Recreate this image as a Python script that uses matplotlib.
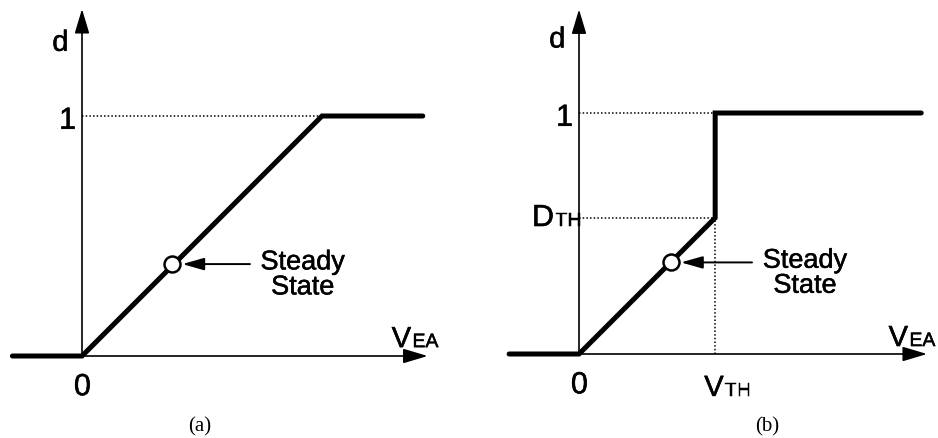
import matplotlib
matplotlib.use("Agg")
import matplotlib.pyplot as plt
import matplotlib.patheffects as pe

plt.rcParams['font.family'] = ['Liberation Sans', 'DejaVu Sans']

# duty cycle d versus error amplifier voltage V_EA
a_x = [-0.29, 0.0, 1.0, 1.42]
a_y = [0.0, 0.0, 1.0, 1.0]
a_steady = (0.375, 0.383)

V_TH = 0.565
D_TH = 0.565
b_x = [-0.29, 0.0, V_TH, V_TH, 1.42]
b_y = [0.0, 0.0, D_TH, 1.0, 1.0]
b_steady = (0.38, 0.38)

W, H = 938, 439
fig = plt.figure(figsize=(W / 100, H / 100), dpi=100)

# slightly heavier glyphs
heavy = [pe.withStroke(linewidth=0.35, foreground='black')]
dots = (0, (1, 1.4))
axis_arrow = '-|>,head_length=0.5,head_width=0.15'


def label(ax, x, y, s, **kw):
    ax.text(x, y, s, path_effects=heavy, **kw)


def sub_label(ax, x, y, main, sub, size=21, subsize=14):
    # big letter ending at x, small subscript starting at x, shared baseline
    label(ax, x, y, main, ha='right', va='baseline', fontsize=size)
    label(ax, x + 0.006, y, sub, ha='left', va='baseline', fontsize=subsize)


def panel(rect, xlim, ylim, xs, ys, steady, x_tip, y_tip, arrow_tail):
    ax = fig.add_axes(rect)
    ax.set_xlim(*xlim)
    ax.set_ylim(*ylim)
    ax.axis('off')

    # axes with arrow heads
    ax.annotate('', xy=(x_tip, 0), xytext=(-0.05, 0),
                arrowprops=dict(arrowstyle=axis_arrow, color='black', lw=1.2,
                                mutation_scale=30, shrinkA=0, shrinkB=0))
    ax.annotate('', xy=(0, y_tip), xytext=(0, 0),
                arrowprops=dict(arrowstyle=axis_arrow, color='black', lw=1.2,
                                mutation_scale=30, shrinkA=0, shrinkB=0))

    ax.plot(xs, ys, color='black', lw=3.6, solid_capstyle='round',
            solid_joinstyle='miter', zorder=3)

    # steady state point and pointer
    ax.plot(*steady, 'o', ms=11.5, mfc='white', mec='black', mew=1.8, zorder=4)
    ax.annotate('', xy=(steady[0] + 0.043, steady[1]),
                xytext=(arrow_tail, steady[1]),
                arrowprops=dict(arrowstyle='-|>,head_length=0.6,head_width=0.17',
                                color='black', lw=1.4,
                                mutation_scale=22, shrinkA=0, shrinkB=0))
    label(ax, arrow_tail + 0.22, steady[1] - 0.045, 'Steady\nState',
          ha='center', va='center', multialignment='center', fontsize=19.5,
          linespacing=0.95)

    label(ax, -0.09, 1.305, 'd', ha='center', va='center', fontsize=21)
    label(ax, -0.06, 0.98, '1', ha='center', va='center', fontsize=22)
    label(ax, 0.002, -0.13, '0', ha='center', va='center', fontsize=22)
    return ax


ax_a = panel([0, 0, 0.5, 1], (-82 / 240, 387 / 240), (-82 / 240, 357 / 240),
             a_x, a_y, a_steady, 1.44, 1.446, 0.70)
ax_a.plot([0, 1.0], [1.0, 1.0], color='black', lw=1.1, ls=dots)
sub_label(ax_a, 1.371, 0.037, 'V', 'EA')

ax_b = panel([0.5, 0, 0.5, 1], (-110 / 241, 359 / 241), (-84 / 241, 355 / 241),
             b_x, b_y, b_steady, 1.444, 1.43, 0.718)
ax_b.plot([0, V_TH], [1.0, 1.0], color='black', lw=1.1, ls=dots)
ax_b.plot([0, V_TH], [D_TH, D_TH], color='black', lw=1.1, ls=dots)
ax_b.plot([V_TH, V_TH], [0, D_TH], color='black', lw=1.1, ls=dots)
sub_label(ax_b, 1.365, 0.033, 'V', 'EA')
sub_label(ax_b, 0.60, -0.174, 'V', 'TH')
sub_label(ax_b, -0.104, 0.531, 'D', 'TH', size=22)

fig.text(200 / W, 1 - 427 / H, '(a)', ha='center', va='center', fontsize=15,
         family='Liberation Serif')
fig.text(767 / W, 1 - 427 / H, '(b)', ha='center', va='center', fontsize=15,
         family='Liberation Serif')

fig.savefig('out.png', dpi=100, facecolor='white')
